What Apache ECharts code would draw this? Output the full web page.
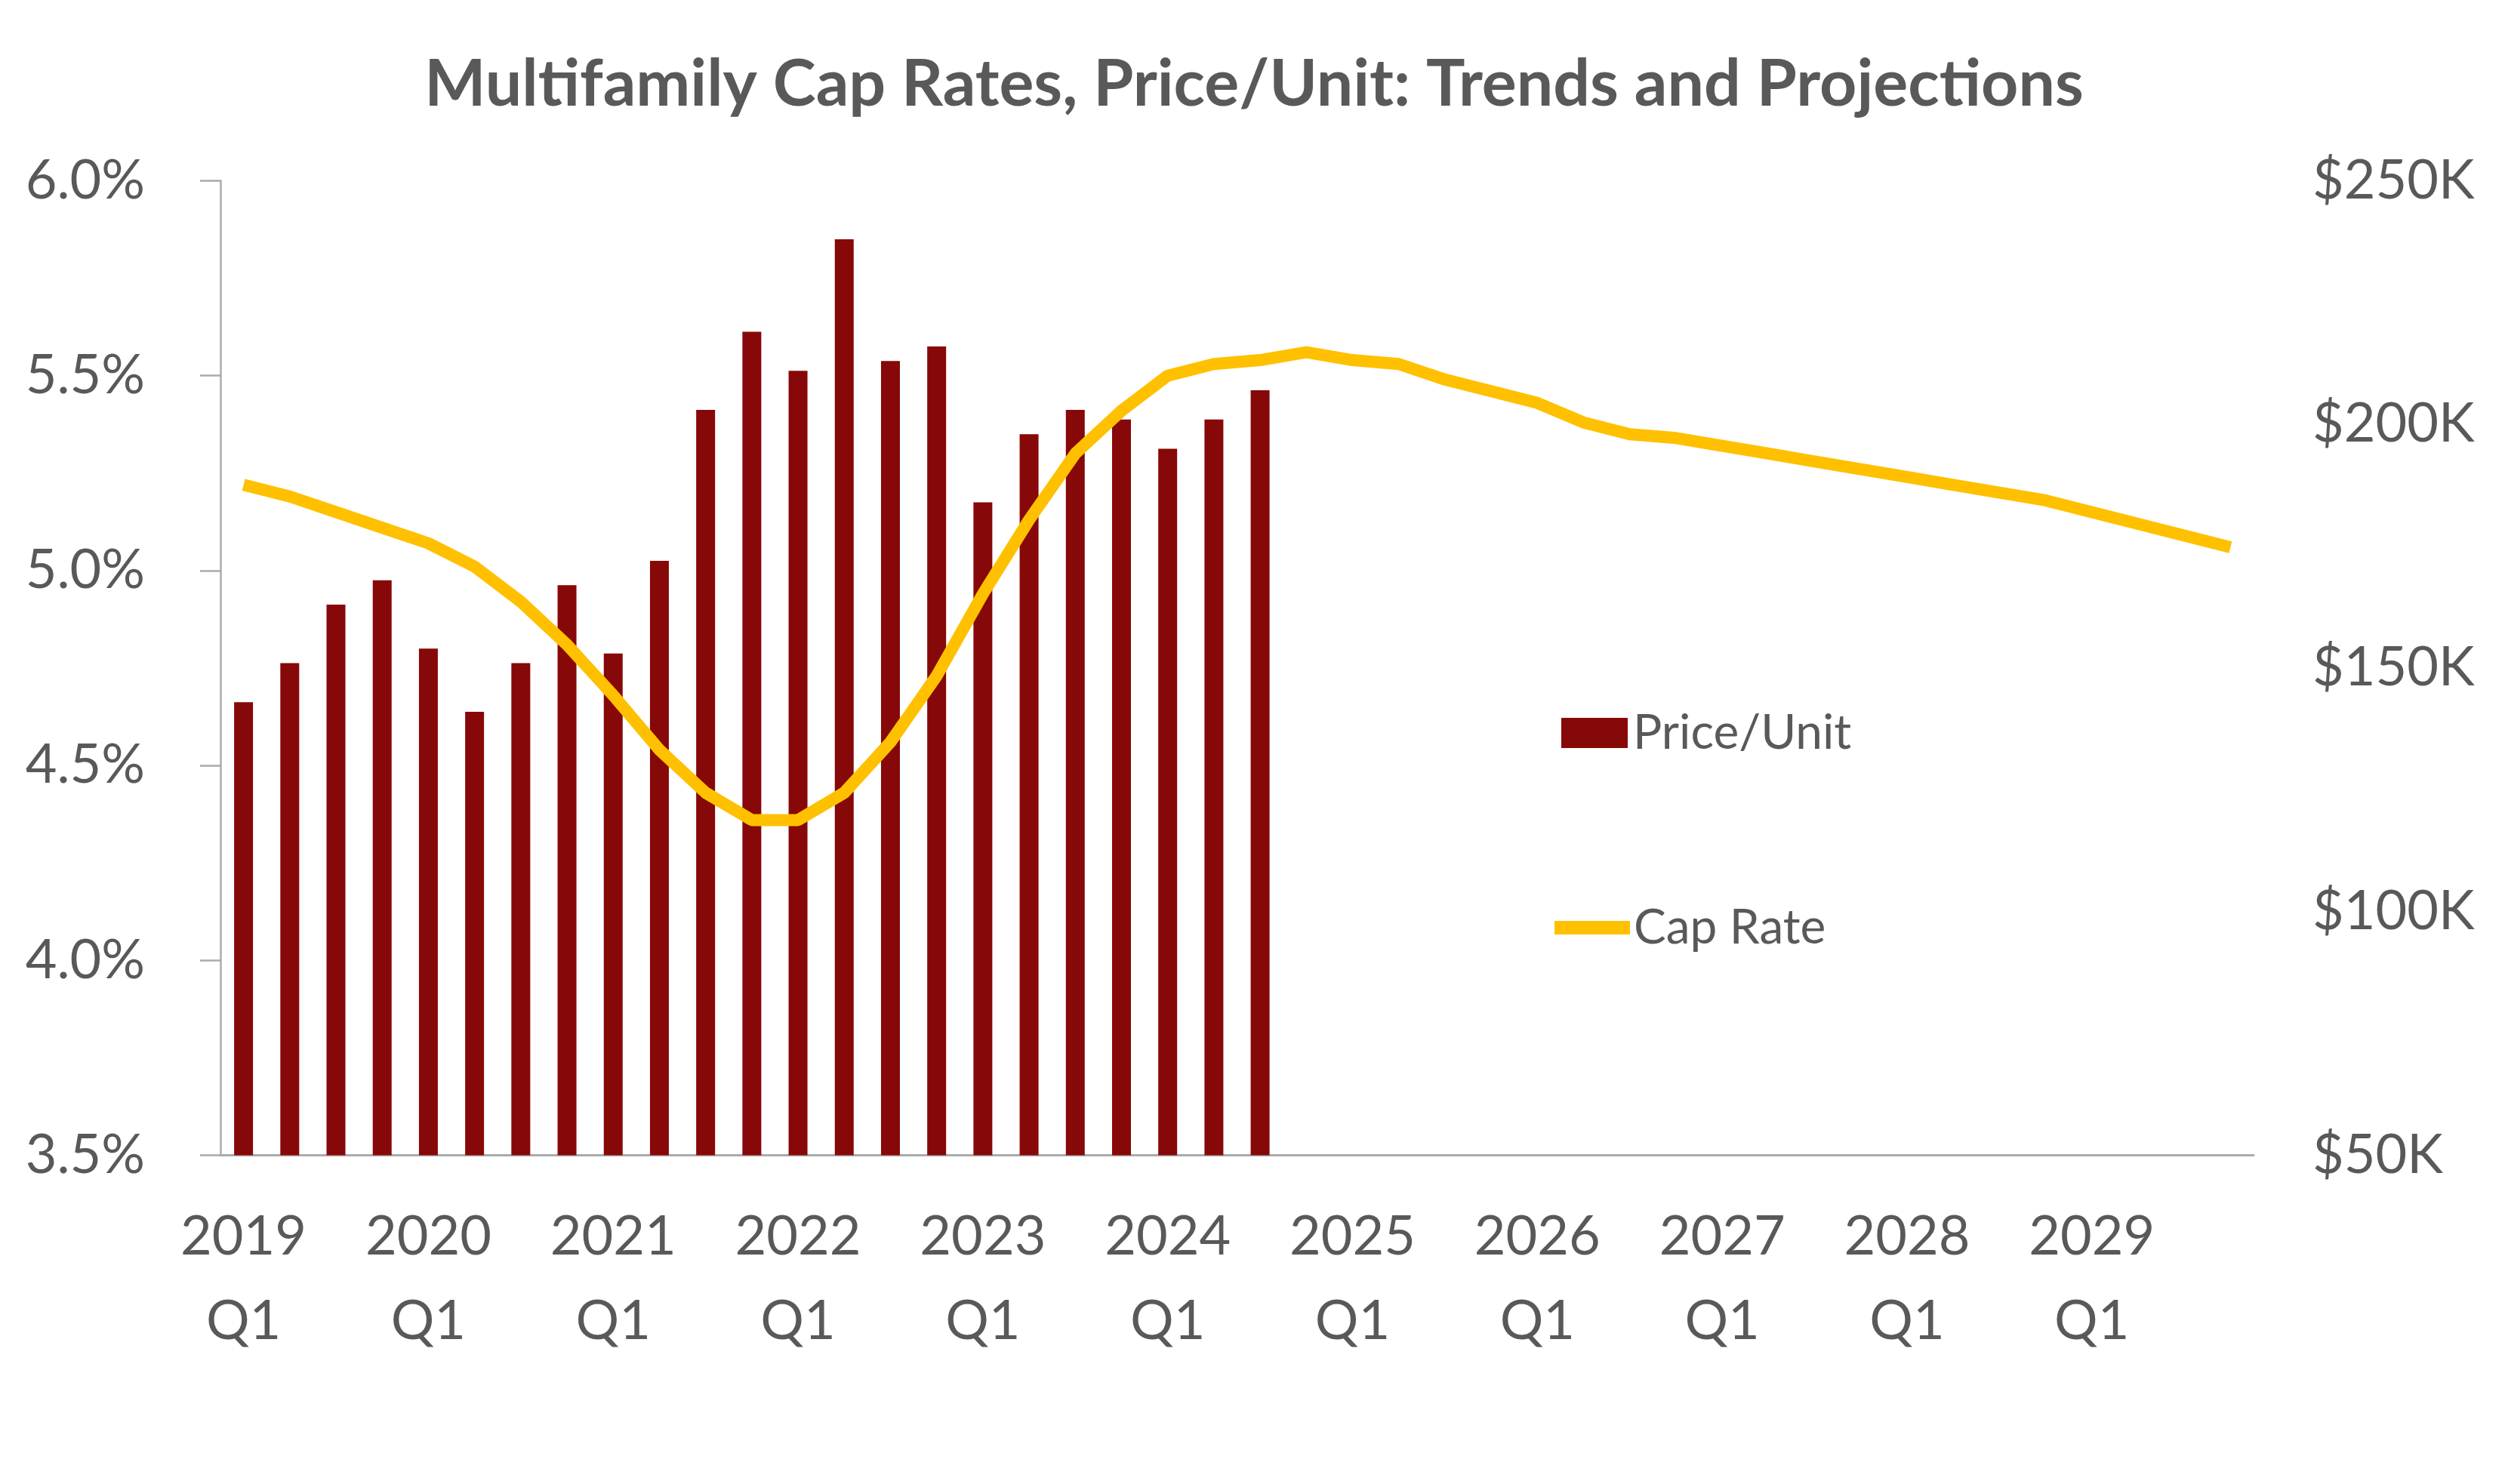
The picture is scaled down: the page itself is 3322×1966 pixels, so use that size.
<!DOCTYPE html>
<html>
<head>
<meta charset="utf-8">
<script src="https://cdn.jsdelivr.net/npm/echarts@6/dist/echarts.min.js"></script>
<style>
  html, body { margin: 0; padding: 0; background: #ffffff; }
  #chart { width: 3322px; height: 1966px; }
</style>
</head>
<body>
<div id="chart"></div>
<script>
// ---- Data ----
const years = ['2019', '2020', '2021', '2022', '2023', '2024', '2025', '2026', '2027', '2028', '2029'];
const quarters = ['Q1', 'Q2', 'Q3', 'Q4'];
const categories = [];
years.forEach(y => quarters.forEach(q => categories.push(y + ' ' + q)));

// Price per unit, $K (2019 Q1 - 2024 Q3)
const priceUnit = [143, 151, 163, 168, 154, 141, 151, 167, 153, 172, 203, 219,
                   211, 238, 213, 216, 184, 198, 203, 201, 195, 201, 207];

// Cap rate, % (2019 Q1 - 2029 Q4, including projections)
const capRate = [5.22, 5.19, 5.15, 5.11, 5.07, 5.01, 4.92, 4.81, 4.68, 4.54, 4.43,
                 4.36, 4.36, 4.43, 4.56, 4.73, 4.94, 5.13, 5.30, 5.41, 5.50, 5.53,
                 5.54, 5.56, 5.54, 5.53, 5.49, 5.46, 5.43, 5.38, 5.35, 5.34, 5.32,
                 5.30, 5.28, 5.26, 5.24, 5.22, 5.20, 5.18, 5.15, 5.12, 5.09, 5.06];

const leftTicks = { min: 3.5, max: 6.0, interval: 0.5 };
const rightTicks = { min: 50, max: 250, interval: 50 };

const barData = categories.map((c, i) => (i < priceUnit.length ? priceUnit[i] : null));

const FONT = 'Lato';
const TEXT = '#595959';
const AXIS = '#ABABAB';

const chart = echarts.init(document.getElementById('chart'));
chart.setOption({
  backgroundColor: '#ffffff',
  animation: false,
  title: {
    text: 'Multifamily Cap Rates, Price/Unit: Trends and Projections',
    left: 'center',
    top: 64,
    textStyle: { fontFamily: FONT, fontWeight: 'bold', fontSize: 86, color: TEXT }
  },
  legend: [
    {
      data: [{ name: 'Price/Unit', icon: 'rect' }],
      orient: 'vertical',
      left: 2063,
      top: 926,
      itemWidth: 88,
      itemHeight: 40,
      textStyle: { fontFamily: FONT, fontSize: 64, color: TEXT, lineHeight: 80, padding: [0, 0, 0, 2] }
    },
    {
      data: [{ name: 'Cap Rate', icon: 'rect', itemStyle: { color: '#FFC000' } }],
      orient: 'vertical',
      left: 2054,
      top: 1184,
      itemWidth: 100,
      itemHeight: 18,
      textStyle: { fontFamily: FONT, fontSize: 64, color: TEXT, lineHeight: 80 }
    }
  ],
  grid: { left: 292, right: 337, top: 239.5, bottom: 435.5, containLabel: false },
  xAxis: {
    type: 'category',
    data: categories,
    boundaryGap: true,
    axisLine: { show: true, lineStyle: { color: AXIS, width: 3 } },
    axisTick: { show: false },
    axisLabel: {
      interval: 3,
      margin: 52,
      fontFamily: FONT,
      fontSize: 72,
      lineHeight: 112,
      color: TEXT,
      formatter: v => v.replace(' ', '\n')
    },
    splitLine: { show: false }
  },
  yAxis: [
    {
      type: 'value',
      min: leftTicks.min,
      max: leftTicks.max,
      interval: leftTicks.interval,
      axisLine: { show: true, lineStyle: { color: AXIS, width: 2.5 } },
      axisTick: { show: true, length: 27, lineStyle: { color: AXIS, width: 2.5 } },
      axisLabel: {
        margin: 100,
        fontFamily: FONT,
        fontSize: 72,
        color: TEXT,
        formatter: v => v.toFixed(1) + '%'
      },
      splitLine: { show: false }
    },
    {
      type: 'value',
      position: 'right',
      min: rightTicks.min,
      max: rightTicks.max,
      interval: rightTicks.interval,
      axisLine: { show: false },
      axisTick: { show: false },
      axisLabel: {
        margin: 78,
        fontFamily: FONT,
        fontSize: 72,
        color: TEXT,
        formatter: v => '$' + v + 'K'
      },
      splitLine: { show: false }
    }
  ],
  series: [
    {
      name: 'Price/Unit',
      type: 'bar',
      yAxisIndex: 1,
      data: barData,
      barWidth: 25,
      itemStyle: { color: '#870808' },
      z: 2
    },
    {
      name: 'Cap Rate',
      type: 'line',
      yAxisIndex: 0,
      data: capRate,
      symbol: 'none',
      smooth: false,
      lineStyle: { color: '#FFC000', width: 16 },
      itemStyle: { color: '#FFC000' },
      z: 3
    }
  ]
});
</script>
</body>
</html>
